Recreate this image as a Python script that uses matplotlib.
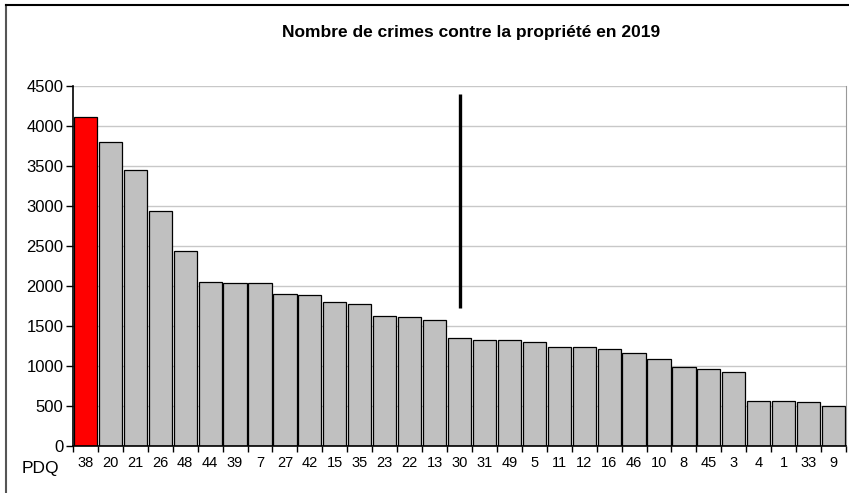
import numpy as np
import matplotlib.pyplot as plt
from matplotlib.lines import Line2D

plt.rcParams['font.family'] = ['Liberation Sans', 'DejaVu Sans']

pdq = ['38', '20', '21', '26', '48', '44', '39', '7', '27', '42', '15', '35', '23', '22', '13',
       '30', '31', '49', '5', '11', '12', '16', '46', '10', '8', '45', '3', '4', '1', '33', '9']
crimes = [4110, 3800, 3450, 2935, 2440, 2055, 2040, 2040, 1900, 1885, 1795, 1775, 1625, 1610, 1570,
          1350, 1325, 1325, 1295, 1240, 1240, 1210, 1160, 1085, 990, 960, 920, 560, 560, 550, 495]
# marqueur vertical (PDQ 30)
mark_idx = 15
mark_lo, mark_hi = 1725, 4400

fig = plt.figure(figsize=(8.49, 4.93), dpi=100)
ax = fig.add_axes([73/849, 1-446/493, (846-73)/849, (446-86)/493])

x = np.arange(len(pdq))
colors = ['#FF0000'] + ['#C0C0C0']*(len(pdq)-1)
ax.bar(x, crimes, width=0.93, color=colors, edgecolor='black', linewidth=0.9, zorder=2)
ax.vlines(x[mark_idx], mark_lo, mark_hi, color='black', linewidth=2.4, zorder=3)

ax.set_xlim(-0.5, len(pdq)-0.5)
ax.set_ylim(0, 4500)
ax.set_yticks(np.arange(0, 4501, 500))
ax.tick_params(axis='y', labelsize=12, length=5, width=1, direction='out', pad=2)
ax.yaxis.grid(True, color='#C8C8C8', linewidth=1, zorder=0)
ax.set_axisbelow(True)

ax.set_xticks(x)
ax.set_xticklabels(pdq, fontsize=10.5)
ax.set_xticks(np.arange(-0.5, len(pdq)), minor=True)
ax.tick_params(axis='x', which='major', length=0, pad=7)
ax.tick_params(axis='x', which='minor', length=4, width=1, direction='out')

for s in ['left', 'bottom']:
    ax.spines[s].set_color('black')
    ax.spines[s].set_linewidth(1.2)
ax.spines['top'].set_visible(False)
ax.spines['right'].set_color('#999999')

fig.text(471/849, 1-33/493, 'Nombre de crimes contre la propriété en 2019',
         ha='center', va='center', fontsize=12.5, fontweight='bold')
fig.text(40/849, 1-468/493, 'PDQ', ha='center', va='center', fontsize=12.5)

# cadre du graphique
fig.add_artist(Line2D([6/849, 6/849], [0, 1-5/493], color='#555555', linewidth=1.5))
fig.add_artist(Line2D([6/849, 1], [1-5/493, 1-5/493], color='black', linewidth=1.5))

fig.savefig('out.png', dpi=100)
